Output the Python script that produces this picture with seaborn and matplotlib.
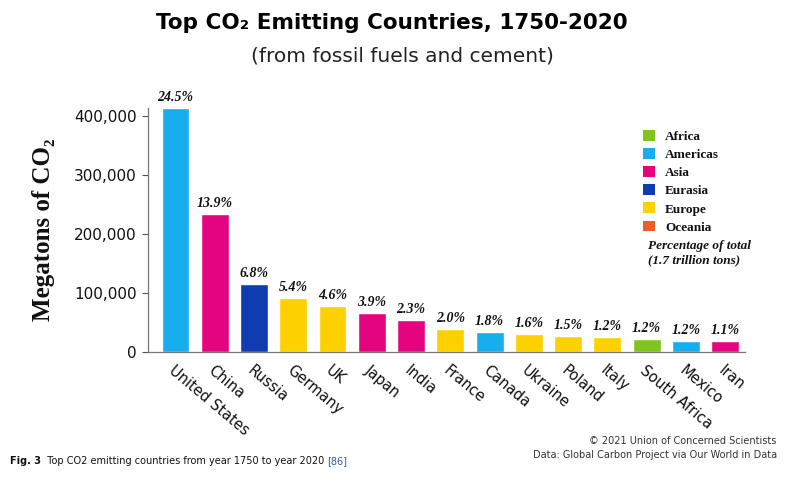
import pandas as pd
import numpy as np
import seaborn as sns
import matplotlib.pyplot as plt
from matplotlib.patches import Patch
from matplotlib.ticker import FuncFormatter

countries = ['United States', 'China', 'Russia', 'Germany', 'UK', 'Japan', 'India',
             'France', 'Canada', 'Ukraine', 'Poland', 'Italy', 'South Africa', 'Mexico', 'Iran']
regions = ['Americas', 'Asia', 'Eurasia', 'Europe', 'Europe', 'Asia', 'Asia',
           'Europe', 'Americas', 'Europe', 'Europe', 'Europe', 'Africa', 'Americas', 'Asia']
megatons = [414000, 234000, 115000, 92000, 77000, 66000, 54000,
            38500, 33000, 30000, 27000, 25000, 21000, 19000, 18000]
pct_labels = ['24.5%', '13.9%', '6.8%', '5.4%', '4.6%', '3.9%', '2.3%',
              '2.0%', '1.8%', '1.6%', '1.5%', '1.2%', '1.2%', '1.2%', '1.1%']

legend_regions = ['Africa', 'Americas', 'Asia', 'Eurasia', 'Europe', 'Oceania']
region_colors = {'Africa': '#80c51f', 'Americas': '#16aeec', 'Asia': '#e4047f',
                 'Eurasia': '#0f3cae', 'Europe': '#fdd000', 'Oceania': '#f15a29'}

df = pd.DataFrame({'country': countries, 'region': regions, 'megatons': megatons})

sns.set_style('white')
plt.rcParams['font.family'] = ['DejaVu Sans']
plt.rcParams['text.color'] = '#111111'
plt.rcParams['axes.labelcolor'] = '#111111'
plt.rcParams['xtick.color'] = '#111111'
plt.rcParams['ytick.color'] = '#111111'
serif = 'Liberation Serif'

fig = plt.figure(figsize=(8, 4.82), dpi=100)
ax = fig.add_axes([0.185, 0.270, 0.746, 0.506])

sns.barplot(data=df, x='country', y='megatons', hue='region', palette=region_colors,
            dodge=False, width=0.71, legend=False, ax=ax, saturation=1)

ax.set_ylim(0, 414000)
ax.set_xlim(-0.7, 14.5)
ax.set_yticks([0, 100000, 200000, 300000, 400000])
ax.yaxis.set_major_formatter(FuncFormatter(lambda v, p: f'{int(v):,}'))
ax.tick_params(axis='y', labelsize=11, length=4, width=0.8, color='#555555', left=True, pad=4)
ax.tick_params(axis='x', length=0, pad=8)
for s in ['top', 'right']:
    ax.spines[s].set_visible(False)
for s in ['left', 'bottom']:
    ax.spines[s].set_color('#777777')
    ax.spines[s].set_linewidth(0.9)

ax.set_xticks(range(len(countries)))
ax.set_xticklabels(countries, rotation=-40, ha='left', va='top', rotation_mode='anchor',
                   fontsize=10.5)
ax.set_xlabel('')
ax.set_ylabel('Megatons of CO₂', family=serif, fontweight='bold', fontsize=18, labelpad=14)

for i, (v, t) in enumerate(zip(megatons, pct_labels)):
    ax.text(i, v + 7000, t, ha='center', va='bottom', family=serif, style='italic',
            fontweight='bold', fontsize=10, clip_on=False)

handles = [Patch(facecolor=region_colors[r], edgecolor='none') for r in legend_regions]
leg = ax.legend(handles, legend_regions, loc='upper left', bbox_to_anchor=(0.82, 0.93),
                frameon=False, handlelength=0.9, handleheight=0.9, labelspacing=0.38,
                handletextpad=0.8, borderaxespad=0,
                prop={'family': serif, 'weight': 'bold', 'size': 9.5})
fig.text(0.81, 0.502, 'Percentage of total\n(1.7 trillion tons)', family=serif,
         style='italic', fontweight='bold', fontsize=9.5, va='top', linespacing=1.25)

fig.text(0.49, 0.952, 'Top CO₂ Emitting Countries, 1750-2020', ha='center', va='center',
         fontsize=15.5, fontweight='bold', color='black')
fig.text(0.503, 0.884, '(from fossil fuels and cement)', ha='center', va='center', fontsize=14.5,
         color='#222222')

fig.text(0.971, 0.071, '© 2021 Union of Concerned Scientists\nData: Global Carbon Project via Our World in Data',
         ha='right', va='center', fontsize=7, color='#333333', linespacing=1.45)

# caption pieces placed one after another
renderer = fig.canvas.get_renderer()
x = 10
for txt, kw in [('Fig. 3', dict(fontweight='bold')),
                ('  Top CO2 emitting countries from year 1750 to year 2020 ', dict()),
                ('[86]', dict(color='#3a50a8'))]:
    t = fig.text(x / 800, 0.043, txt, fontsize=7, va='center', **kw)
    x += t.get_window_extent(renderer).width

fig.savefig('out.png', dpi=100, facecolor='white')
